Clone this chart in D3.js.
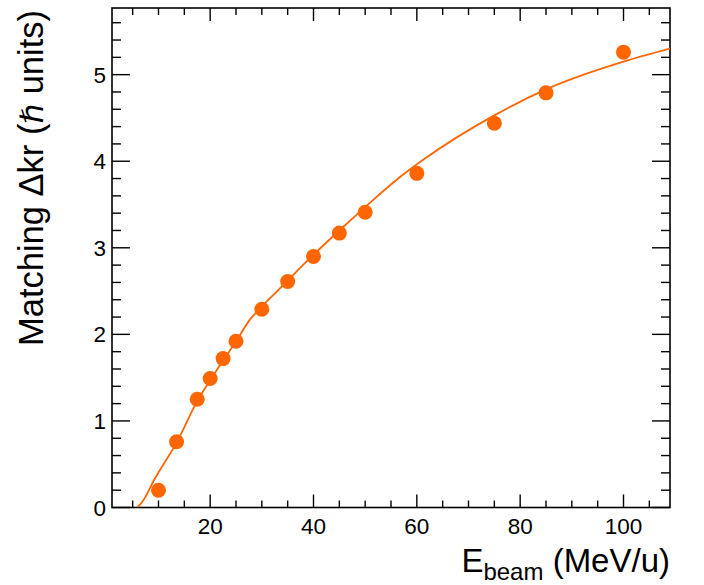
<!DOCTYPE html>
<html>
<head>
<meta charset="utf-8">
<script src="https://cdn.jsdelivr.net/npm/d3@7"></script>
<style>
  html, body { margin: 0; padding: 0; background: #fff; }
  svg { display: block; }
  text { font-family: "Liberation Sans", Arial, Helvetica, sans-serif; fill: #000; }
</style>
</head>
<body>
<svg id="chart" width="704" height="585"></svg>
<script>
// ---- data ----
const energies = [10, 13.5, 17.5, 20, 22.5, 25, 30, 35, 40, 45, 50, 60, 75, 85, 100];
const deltaKr  = [0.20, 0.76, 1.25, 1.49, 1.72, 1.92, 2.29, 2.61, 2.90, 3.17, 3.41, 3.86, 4.44, 4.79, 5.26];

// fitted curve
const fitX = [5.9, 6.8, 9.35, 13.5, 17.6, 20, 25, 27.7, 30, 33.5, 40, 45, 50, 56.8, 61.3, 75, 85, 100, 109];
const fitY = [0.0, 0.06, 0.34, 0.75, 1.24, 1.47, 1.92, 2.17, 2.32, 2.53, 2.92, 3.20, 3.47, 3.82, 4.02, 4.53, 4.83, 5.15, 5.30];

const xMajorTicks = [20, 40, 60, 80, 100];
const yMajorTicks = [0, 1, 2, 3, 4, 5];
const xDomain = [1, 109];
const yDomain = [0, 5.77];

const xTitleMain = "E";
const xTitleSub = "beam";
const xTitleRest = " (MeV/u)";
const yTitle = "Matching \u0394kr (";
const yTitleHbar = "\u210F";
const yTitleEnd = " units)";

// ---- layout ----
const svg = d3.select("#chart");
const L = 112, R = 670, T = 8, B = 507.5;
const color = "#ff6600";

const x = d3.scaleLinear().domain(xDomain).range([L, R]);
const y = d3.scaleLinear().domain(yDomain).range([B, T]);

svg.append("defs").append("clipPath").attr("id", "clip")
  .append("rect").attr("x", L).attr("y", T).attr("width", R - L).attr("height", B - T);

// minor ticks
const xMinor = d3.range(5, 109, 5).filter(v => !xMajorTicks.includes(v));
const yMinor = d3.range(0.2, 5.77, 0.2).map(v => +v.toFixed(1)).filter(v => !yMajorTicks.includes(v));

const axisG = svg.append("g").attr("stroke", "#000").attr("stroke-width", 1.4);

// bottom & top ticks
[[xMajorTicks, 13], [xMinor, 7]].forEach(([ticks, len]) => {
  ticks.forEach(v => {
    axisG.append("line").attr("x1", x(v)).attr("x2", x(v)).attr("y1", B).attr("y2", B - len);
    axisG.append("line").attr("x1", x(v)).attr("x2", x(v)).attr("y1", T).attr("y2", T + len);
  });
});
// left & right ticks
[[yMajorTicks, 18], [yMinor, 9]].forEach(([ticks, len]) => {
  ticks.forEach(v => {
    axisG.append("line").attr("y1", y(v)).attr("y2", y(v)).attr("x1", L).attr("x2", L + len);
    axisG.append("line").attr("y1", y(v)).attr("y2", y(v)).attr("x1", R).attr("x2", R - len);
  });
});

// frame
svg.append("rect").attr("x", L).attr("y", T).attr("width", R - L).attr("height", B - T)
  .attr("fill", "none").attr("stroke", "#000").attr("stroke-width", 1.6);

// tick labels
svg.append("g").selectAll("text").data(xMajorTicks).join("text")
  .attr("x", d => x(d)).attr("y", B + 26)
  .attr("text-anchor", "middle").attr("font-size", 22.5).text(d => d);
svg.append("g").selectAll("text").data(yMajorTicks).join("text")
  .attr("x", L - 6).attr("y", d => y(d) + 8)
  .attr("text-anchor", "end").attr("font-size", 22.5).text(d => d);

// fit curve
const line = d3.line().x(d => x(d[0])).y(d => y(d[1])).curve(d3.curveMonotoneX);
svg.append("path").datum(fitX.map((v, i) => [v, fitY[i]]))
  .attr("clip-path", "url(#clip)")
  .attr("d", line).attr("fill", "none").attr("stroke", color).attr("stroke-width", 1.8);

// points
svg.append("g").selectAll("circle").data(energies.map((v, i) => [v, deltaKr[i]])).join("circle")
  .attr("cx", d => x(d[0])).attr("cy", d => y(d[1])).attr("r", 7.5).attr("fill", color);

// x title
const xt = svg.append("text").attr("x", R).attr("y", 572).attr("text-anchor", "end").attr("font-size", 33);
xt.append("tspan").text(xTitleMain);
xt.append("tspan").attr("font-size", 24).attr("dy", 8).text(xTitleSub);
xt.append("tspan").attr("dy", -8).text(xTitleRest);

// y title
const yt = svg.append("text").attr("transform", `translate(43, ${T + 2}) rotate(-90)`)
  .attr("text-anchor", "end").attr("font-size", 34.5);
yt.append("tspan").text(yTitle);
yt.append("tspan").attr("font-style", "italic").attr("font-family", "DejaVu Sans").attr("font-size", 31).text(yTitleHbar);
yt.append("tspan").text(yTitleEnd);
</script>
</body>
</html>
